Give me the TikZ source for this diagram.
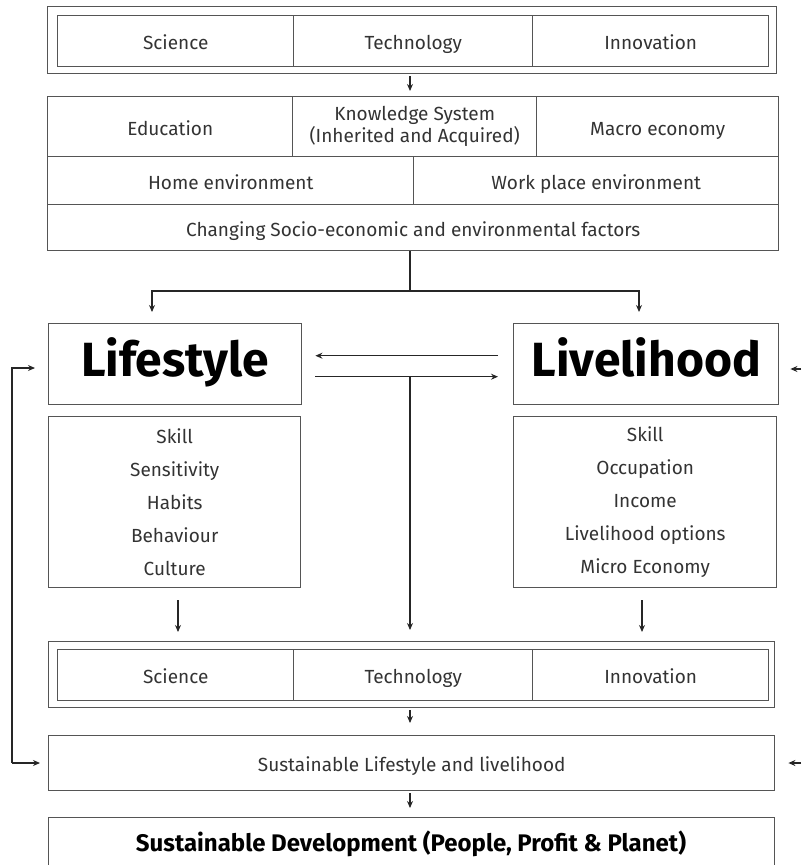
\documentclass[tikz,border=0pt]{standalone}
\usepackage{fontspec}
\setmainfont{Fira Sans}
\usetikzlibrary{arrows.meta,calc}
\definecolor{linec}{HTML}{555555}
\definecolor{textc}{HTML}{333333}
\tikzset{
  cell/.style={draw=linec, line width=1.4pt, anchor=north west, inner sep=0pt, align=center, text=textc, font=\fontsize{19}{22}\selectfont},
  onel/.style={text height=17.5pt, text depth=0pt},
  bigcell/.style={cell, text=black, font=\fontsize{48}{52}\selectfont\bfseries, text height=34pt, text depth=10pt},
  listcell/.style={cell, font=\fontsize{19}{33}\selectfont},
  arr/.style={draw=black!85, line width=1.1pt, -{Stealth[length=7pt,width=6pt]}},
  plain/.style={draw=black!85, line width=1.1pt}
}
\begin{document}
\begin{tikzpicture}[x=1pt,y=-1pt]
\useasboundingbox (0,0) rectangle (801,865);
\clip (0,0) rectangle (801,865);
% top STI
\node[cell, minimum width=729pt, minimum height=67pt] (stiA) at (47,6) {};
\node[cell, onel, minimum width=236pt, minimum height=51pt] (sci1) at (57,15) {Science};
\node[cell, onel, minimum width=239pt, minimum height=51pt] (tech1) at (293,15) {Technology};
\node[cell, onel, minimum width=236pt, minimum height=51pt] (inno1) at (532,15) {Innovation};
% factors block
\node[cell, onel, minimum width=245pt, minimum height=60pt] (edu) at (47,96) {Education};
\node[cell, minimum width=244pt, minimum height=60pt] (know) at (292,96) {Knowledge System\\(Inherited and Acquired)};
\node[cell, onel, minimum width=242pt, minimum height=60pt] (macro) at (536,96) {Macro economy};
\node[cell, onel, minimum width=366pt, minimum height=48pt] (home) at (47,156) {Home environment};
\node[cell, onel, minimum width=365pt, minimum height=48pt] (work) at (413,156) {Work place environment};
\node[cell, onel, minimum width=731pt, minimum height=46pt] (chg) at (47,204) {Changing Socio-economic and environmental factors};
% lifestyle / livelihood
\node[bigcell, minimum width=253pt, minimum height=81pt] (life) at (48,323) {Lifestyle};
\node[bigcell, minimum width=265pt, minimum height=81pt] (liv) at (513,323) {Livelihood};
\node[listcell, minimum width=252pt, minimum height=171pt] (lifeL) at (48,416) {Skill\\Sensitivity\\Habits\\Behaviour\\Culture};
\node[listcell, minimum width=263pt, minimum height=171pt] (livL) at (513,416) {Skill\\Occupation\\Income\\Livelihood options\\Micro Economy};
% bottom STI
\node[cell, minimum width=726pt, minimum height=66pt] (stiB) at (48,641) {};
\node[cell, onel, minimum width=236pt, minimum height=51pt] (sci2) at (57,649) {Science};
\node[cell, onel, minimum width=239pt, minimum height=51pt] (tech2) at (293,649) {Technology};
\node[cell, onel, minimum width=236pt, minimum height=51pt] (inno2) at (532,649) {Innovation};
% outcomes
\node[cell, onel, minimum width=726pt, minimum height=55pt] (sll) at (48,735) {Sustainable Lifestyle and livelihood};
\node[cell, minimum width=726pt, minimum height=70pt] (sd) at (48,817) {};
\node[text=black, font=\fontsize{24}{28}\selectfont\bfseries, inner sep=0pt] (sdt) at (411,844) {Sustainable Development (People, Profit \& Planet)};
% coordinates
\coordinate (sp) at (410,291);
\coordinate (spL) at (152,291);
\coordinate (spR) at (639,291);
\coordinate (jn) at (410,376);
\coordinate (fb1) at (12,368);
\coordinate (fb2) at (12,763);
\coordinate (rb1) at (801,369);
\coordinate (rb2) at (801,763);
\coordinate (dL) at (178,600);
\coordinate (dR) at (642,600);
% connectors
\draw[arr, shorten <=2pt, shorten >=5pt] (sp |- stiA.south) -- (sp |- edu.north);
\draw[plain] (sp |- chg.south) -- (sp);
\draw[arr, shorten >=11pt] (sp) -- (spL) -- (spL |- life.north);
\draw[arr, shorten >=11pt] (sp) -- (spR) -- (spR |- liv.north);
\draw[arr, shorten <=15pt, shorten >=13pt] ([yshift=8.5pt]liv.west) -- ([yshift=8.5pt]life.east);
\draw[arr, shorten <=13pt, shorten >=15pt] ([yshift=-12.5pt]life.east) -- ([yshift=-12.5pt]liv.west);
\draw[arr, shorten >=11pt] (jn) -- (jn |- stiB.north);
\draw[arr, shorten >=9pt] (dL) -- (dL |- stiB.north);
\draw[arr, shorten >=9pt] (dR) -- (dR |- stiB.north);
\draw[arr, shorten <=2pt, shorten >=12pt] (sp |- stiB.south) -- (sp |- sll.north);
\draw[arr, shorten <=2pt, shorten >=9pt] (sp |- sll.south) -- (sp |- sd.north);
\draw[arr, shorten >=13pt] (fb2) -- (fb1) -- (fb1 -| life.west);
\draw[arr, shorten >=8pt] (fb2) -- (fb2 -| sll.west);
\draw[arr, shorten >=11pt] (rb1) -- (rb1 -| liv.east);
\draw[arr, shorten >=13pt] (rb2) -- (rb2 -| sll.east);
\end{tikzpicture}
\end{document}
